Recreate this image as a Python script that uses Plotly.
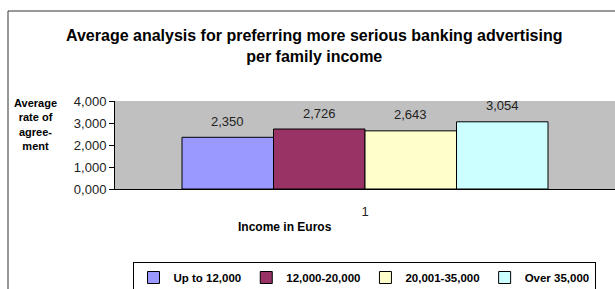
import plotly.graph_objects as go

# ---- data ----
categories = ["1"]
series_names = ["Up to 12,000", "12,000-20,000", "20,001-35,000", "Over 35,000"]
series_values = [2.350, 2.726, 2.643, 3.054]
value_labels = ["2,350", "2,726", "2,643", "3,054"]
y_tick_vals = [0, 1, 2, 3, 4]
y_tick_text = ["0,000", "1,000", "2,000", "3,000", "4,000"]

colors = ["#9999FF", "#993366", "#FFFFCC", "#CCFFFF"]

W, H = 615, 289
L, R, T, B = 115, 0, 101, 100
pw = W - L - R
ph = H - T - B


def px_x(p):
    return (p - L) / pw


def px_y(p):
    return (H - B - p) / ph


fig = go.Figure()
for name, val, col in zip(series_names, series_values, colors):
    fig.add_trace(go.Bar(
        x=categories, y=[val], name=name,
        marker=dict(color=col, line=dict(color="#000000", width=1)),
        hoverinfo="skip",
    ))

bargap = 0.268
group_w = 1 - bargap
bar_w = group_w / len(series_values)
annotations = []
for i, (val, lab) in enumerate(zip(series_values, value_labels)):
    xc = -group_w / 2 + bar_w * (i + 0.5)
    annotations.append(dict(
        x=xc, y=val, xref="x", yref="y", text=lab, showarrow=False,
        yshift=16, font=dict(family="Liberation Sans, Arial", size=13, color="#222222"),
    ))

annotations.append(dict(
    x=px_x(313.5), y=px_y(46), xref="paper", yref="paper",
    text="<b>Average analysis for preferring more serious banking advertising<br>per family income</b>",
    showarrow=False, xanchor="center", yanchor="middle",
    font=dict(family="Liberation Sans, Arial", size=16, color="#000000"),
))
annotations.append(dict(
    x=px_x(35), y=px_y(124.5), xref="paper", yref="paper",
    text="<b>Average<br>rate of<br>agree-<br>ment</b>",
    showarrow=False, xanchor="center", yanchor="middle",
    font=dict(family="Liberation Sans, Arial", size=11, color="#000000"),
))
annotations.append(dict(
    x=px_x(285), y=px_y(227), xref="paper", yref="paper",
    text="<b>Income in Euros</b>",
    showarrow=False, xanchor="center", yanchor="middle",
    font=dict(family="Liberation Sans, Arial", size=12, color="#000000"),
))

fig.update_layout(
    width=W, height=H,
    margin=dict(l=L, r=R, t=T, b=B, autoexpand=False),
    paper_bgcolor="#FFFFFF",
    plot_bgcolor="#C0C0C0",
    barmode="group", bargap=bargap, bargroupgap=0,
    font=dict(family="Liberation Sans, Arial", color="#000000"),
    showlegend=True,
    legend=dict(
        orientation="h", x=px_x(364), y=px_y(262), xanchor="center", yanchor="top",
        bgcolor="#FFFFFF", bordercolor="#000000", borderwidth=1,
        font=dict(family="Liberation Sans, Arial", size=11.5, color="#000000", weight="bold"),
        itemwidth=30, traceorder="normal",
    ),
    annotations=annotations,
    shapes=[dict(
        type="rect", xref="paper", yref="paper",
        x0=px_x(8), x1=px_x(640), y0=px_y(320), y1=px_y(11),
        line=dict(color="#333333", width=1), fillcolor="rgba(0,0,0,0)", layer="below",
    )],
)

fig.update_xaxes(
    type="category", range=[-0.5, 0.5],
    showline=True, linecolor="#000000", linewidth=1,
    ticks="outside", ticklen=0, tickcolor="rgba(0,0,0,0)",
    ticklabelstandoff=10,
    tickfont=dict(family="Liberation Sans, Arial", size=13, color="#222222"),
    showgrid=False, zeroline=False, fixedrange=True,
)
fig.update_yaxes(
    range=[0, 4], tickvals=y_tick_vals, ticktext=y_tick_text,
    showline=True, linecolor="#000000", linewidth=1,
    ticks="outside", ticklen=5, tickcolor="#000000",
    tickfont=dict(family="Liberation Sans, Arial", size=13, color="#222222"),
    showgrid=False, zeroline=False, fixedrange=True,
)

fig.write_html(
    "out.html",
    config={"displayModeBar": False, "staticPlot": True},
    post_script="document.body.style.margin='0';document.body.style.padding='0';",
)
